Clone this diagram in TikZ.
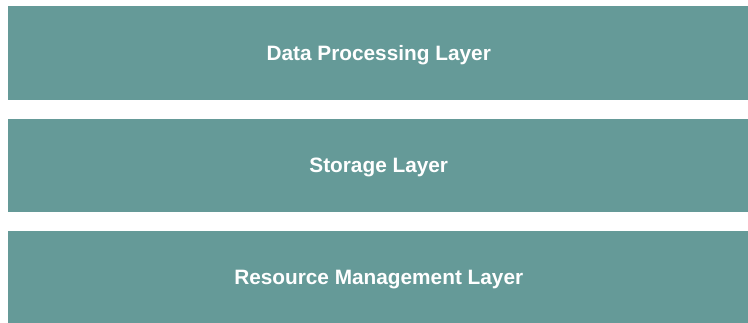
\documentclass[tikz,border=0pt]{standalone}
\usepackage{fontspec}
\setmainfont{Liberation Sans}
\definecolor{layerteal}{RGB}{101,154,152}
\begin{document}
\begin{tikzpicture}[x=1pt,y=1pt,
  layer/.style={rectangle, fill=layerteal, draw=none, minimum width=742.5pt, minimum height=93.5pt, inner sep=0pt,
    text height=19.2pt, text depth=4.4pt,
    text=white, font=\fontsize{20.8}{24}\selectfont\bfseries}]
\useasboundingbox (0,0) rectangle (748,322);
\clip (0,0) rectangle (748,322);
\fill[white] (0,0) rectangle (748,322);
\node[layer] (proc) at (378.75,269) {Data Processing Layer};
\node[layer] (stor) at (378.75,156.5) {Storage Layer};
\node[layer] (res) at (378.75,44.5) {Resource Management Layer};
\end{tikzpicture}
\end{document}
